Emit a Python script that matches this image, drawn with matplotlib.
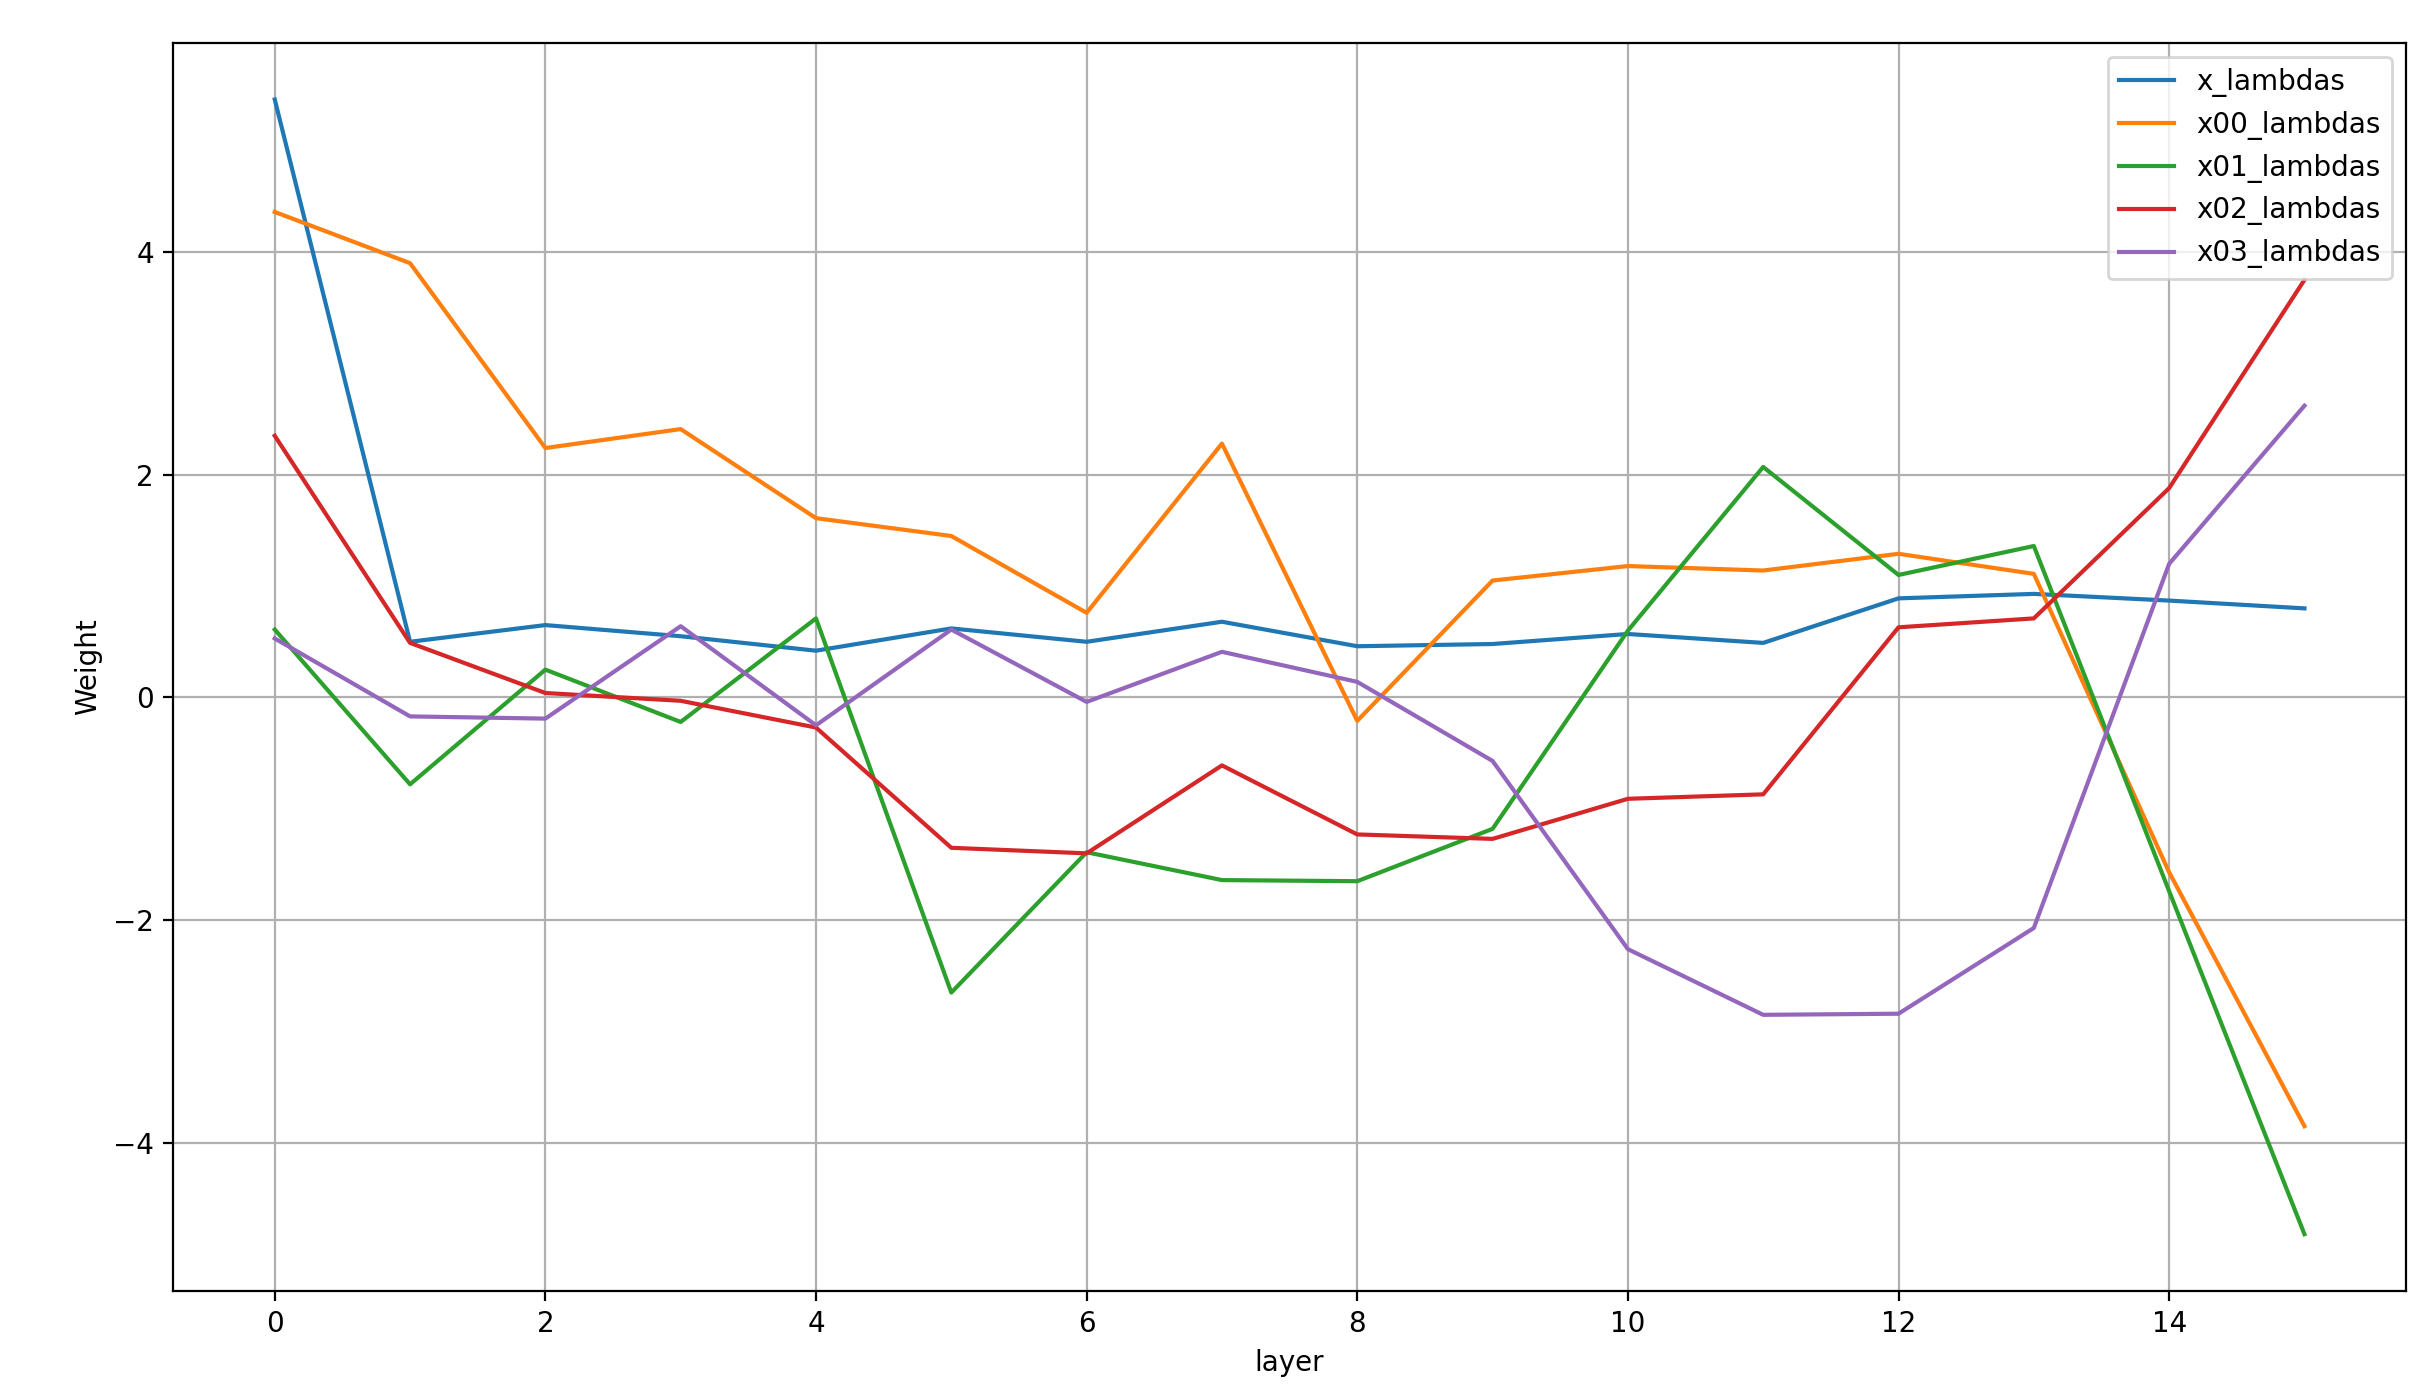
import matplotlib
matplotlib.use("Agg")
import matplotlib.pyplot as plt
import numpy as np

layers = list(range(16))
x_lambdas = [5.37, 0.50, 0.65, 0.55, 0.42, 0.62, 0.50, 0.68, 0.46, 0.48, 0.57, 0.49, 0.89, 0.93, 0.87, 0.80]
x00_lambdas = [4.36, 3.90, 2.24, 2.41, 1.61, 1.45, 0.76, 2.28, -0.21, 1.05, 1.18, 1.14, 1.29, 1.11, -1.57, -3.85]
x01_lambdas = [0.61, -0.78, 0.25, -0.22, 0.71, -2.65, -1.39, -1.64, -1.65, -1.18, 0.60, 2.07, 1.10, 1.36, -1.74, -4.82]
x02_lambdas = [2.35, 0.49, 0.04, -0.03, -0.27, -1.35, -1.40, -0.61, -1.23, -1.27, -0.91, -0.87, 0.63, 0.71, 1.88, 3.75]
x03_lambdas = [0.53, -0.17, -0.19, 0.64, -0.25, 0.61, -0.04, 0.41, 0.14, -0.57, -2.26, -2.85, -2.84, -2.07, 1.20, 2.62]

series = [("x_lambdas", x_lambdas), ("x00_lambdas", x00_lambdas), ("x01_lambdas", x01_lambdas),
          ("x02_lambdas", x02_lambdas), ("x03_lambdas", x03_lambdas)]

fig = plt.figure(figsize=(12.15, 6.96), dpi=200)
ax = fig.add_axes([0.0713, 0.0726, 0.9188, 0.8967])
for name, vals in series:
    ax.plot(layers, vals, label=name, linewidth=1.5)
ax.set_xlabel("layer")
ax.set_ylabel("Weight")
ax.grid(True)
ax.legend(loc="upper right")
fig.savefig("out.png", dpi=200)
